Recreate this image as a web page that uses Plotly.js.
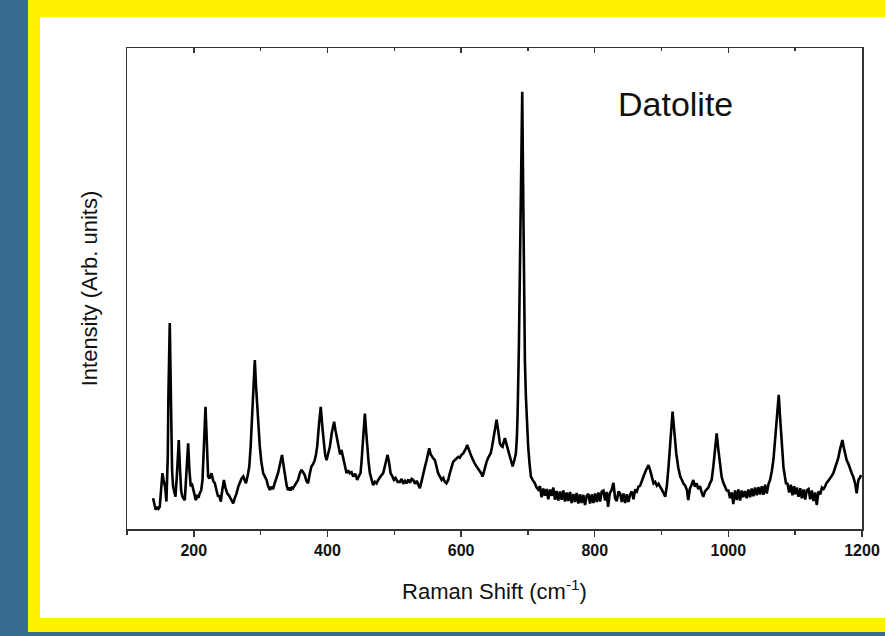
<!DOCTYPE html>
<html>
<head>
<meta charset="utf-8">
<script src="https://cdn.plot.ly/plotly-3.0.1.min.js"></script>
<style>
  html, body { margin: 0; padding: 0; }
  body { width: 885px; height: 636px; background: #386d91; position: relative; overflow: hidden; }
  #yellow { position: absolute; left: 28px; top: 0; width: 857px; height: 632px; background: #fff200; }
  #white { position: absolute; left: 40px; top: 17px; width: 845px; height: 601px; background: #ffffff; }
  #chart { position: absolute; left: 0; top: 0; width: 885px; height: 636px; }
</style>
</head>
<body>
<div id="yellow"></div>
<div id="white"></div>
<div id="chart"></div>
<script>
// Raman shift (cm^-1) and intensity (arb. units)
const shift = [
139,141,143,145,147,149,151,153,155,157,159,161,162,164,166,167.5,169,171,172.6,175,
177.5,179.5,181,183,185,186.5,189,191.5,193.5,195.5,197,199,201,203,205,207,209,211,213,215,
217.5,219.5,221.4,223.5,226.5,229,231.5,234,236.4,238,240.4,242.5,245,247.5,250,252.5,255,257,259,261.5,
264,266.5,269,271.5,274,276,278,280.5,283,285,286.4,288.5,291.3,293,294.8,297,298.8,301,303.8,306,
308.8,311,313.8,316,318.5,321,323.5,326,329,332,334.5,337,339,341,343,345,347,348.6,351,353.5,
356,358.5,361,363.5,366,368.5,371,373.5,376,378.5,381,382.8,384.6,387.5,390,392.5,394.6,396.5,398.6,401,
403.6,406.5,410,412,414.5,417.5,419,421,423,424.6,426.5,428.6,431,433.5,436,438.5,441.5,444.5,447,449.5,
451,452.5,454.5,456,457.5,459.4,461.5,463.5,466,468.4,471,473.5,476,478.5,481,483.4,486.5,490,492,494.5,
497,499.4,502,505,508.4,511,513.5,516,518.4,521,523.5,526,528.3,531,533.5,536,538.3,541,543.3,546,
548.4,550.5,552.3,554.5,556.5,558.3,560.8,563,565.7,568.3,571,573.5,575.7,578,580.7,583,585.5,588.2,590.5,593,
595.7,598,600.5,603.2,605.5,607.5,609.1,611,613.5,615.7,618,620.5,623.2,625.5,628,630,632.2,634.5,636.3,638.2,
640.5,642.5,644.2,646.2,648.1,650.5,653.1,655.5,658,660,662.1,664,665.6,668,670.5,672.5,674.5,677.1,679.5,682,
683.5,684.6,686.5,688.5,690,691.5,692.8,694,695.5,697,698.7,700.4,702.5,704.5,707,710.5,713,715.5,718,720.5,
723,725.5,728,730.5,733,735.5,738,740.5,743,745.5,748,750.5,753,755.5,758,760.5,763,765.5,768,770.5,
773,775.5,778,780.5,783,785.5,788,790.5,793,795.5,798,800.5,803,805.5,808,810.5,813,815.5,818,820,
822.5,825,828,830.5,833,835.5,838,840.5,843,845.5,848,850.5,853,855.5,858,860.5,863,865.5,868,870.5,
873,876,878.5,880.5,883,885.5,888,890.5,893,895.5,898,900.5,903,905.5,908,910.5,913,916.5,919,922,
925,928,930.5,933,935.5,938,940,942.5,945,947.5,950,952.5,955,957.5,960,962.5,965,967.5,970,972.5,
975,977.5,980,982.5,985,987.4,990,992.5,994.9,997.5,1000,1002.5,1005,1007.4,1010,1012.5,1015,1017.5,1020,1022.4,
1025,1027.5,1030,1032.5,1035,1037.4,1040,1042.5,1045,1047.5,1050,1052.4,1055,1057.5,1060,1062.4,1065,1067.5,1069.9,1072.5,
1075.4,1077.5,1079.9,1082.5,1086.2,1088.5,1091,1093.5,1096,1098.5,1100.5,1102.2,1105,1107.5,1110,1112.5,1115,1117.2,1120,1122.5,
1125,1127.5,1130,1132.2,1135,1137.5,1140,1142.5,1144.6,1147,1149.5,1152,1154.5,1157.1,1159.5,1162,1164.5,1167,1170.6,1173,
1175,1177.1,1179.5,1182,1184.6,1187,1189.5,1192.1,1194.6,1196.5,1198.6
];
const intensity = [
6.4,5.0,4.0,4.6,4.2,4.6,8.0,11.6,10.0,8.8,5.7,15,28,42.8,25,12,8.8,7.5,6.7,12,
18.5,12,8,6.7,6.2,6.0,12,17.8,12,8.8,9.5,8.1,7.0,6.0,6.8,6.5,7.5,8.0,10.2,16,
25.4,18,10.9,10.5,11.6,10.0,9.5,8.0,6.7,7.0,5.7,8,10.2,8.5,7.4,7.0,6.4,5.8,5.3,6.5,
7.4,8.8,9.8,10.5,10.9,10.0,9.5,11,13.0,17,20.6,28,35.1,30,25.4,20,17.1,14,11.6,11,
10.2,9.0,8.1,8.8,8.3,9.5,10.5,11.6,13.5,15.4,13,10.2,9.0,8.1,8.6,8.0,8.8,8.5,9.0,9.8,
10.2,11.5,12.3,11.8,11.2,10,9.5,11.5,13.0,13.5,14.3,15.5,17.1,22,25.4,21,17.1,15.5,14.3,15.5,
17.1,20,22.3,20.5,18.5,17.0,15.5,16.4,15.0,14.3,12.8,11.6,12.2,11.6,11.8,10.9,11.5,10.2,11,11.6,
14,17.1,21.5,24.0,21,17.1,14,11.6,10.2,9.1,9.8,9.5,10.2,10.8,11.2,11.6,13.5,15.4,14,11.6,
11,10.2,10.6,9.8,9.8,10.4,9.4,10.0,9.5,10.3,9.6,10.4,10.2,9.4,10.0,9.0,8.5,10,11.6,13,
14.3,16,16.8,15.5,15.2,14.7,14.3,12.8,11.6,10.9,10.2,10.6,9.8,9.5,10.2,11.5,12.8,14.0,14.3,14.6,
15.0,14.8,15.4,15.7,16.2,16.8,17.5,16.6,15.8,15.0,14.2,13.6,13.0,12.5,12.2,11.6,10.9,12.2,13.2,14.0,
14.8,15.2,15.7,17,18.5,20.8,22.7,20.5,17.8,17.3,17.1,18.2,18.9,17.6,16.4,15,14,13.0,14.2,15.7,
19,24.0,37.9,60,80,90.9,72,44.8,35,27.5,22,17.1,13.5,10.9,10.2,9.5,8.6,8.2,8.9,6.6,
8.4,6.9,8.3,6.2,8.2,6.9,8.6,6.1,7.9,5.9,7.8,6.1,8.0,5.7,7.6,5.8,7.7,5.4,7.3,5.6,
7.5,5.3,7.2,5.4,7.1,5.0,6.9,7.3,5.3,7.2,5.4,7.4,5.6,7.6,5.7,7.8,8.0,5.9,7.7,4.6,
7.4,8.0,9.6,6.4,5.8,7.8,7.4,5.6,7.4,5.4,7.2,5.6,7.2,7.8,6.2,8.2,7.8,8.8,9.0,9.8,
10.9,12.0,12.8,13.3,12.2,10.8,9.5,9.8,9.0,9.4,8.8,8.4,7.5,6.7,9.0,13.0,18.5,24.4,20.5,15.7,
12.8,10.9,10.2,9.4,9.0,8.1,6.0,8.4,9.2,10.2,8.8,9.5,8.3,8.9,7.6,6.7,7.8,8.2,8.6,9.5,
10.2,13,17,19.9,16.5,13.0,10.8,9.6,8.8,8.0,8.0,6.4,7.6,5.2,8.0,6.0,8.2,5.9,8.0,6.6,
7.9,6.4,8.2,6.6,8.4,6.8,8.6,7.0,8.7,7.2,8.9,7.1,9.2,7.4,9.3,10.2,12,14.5,18.5,23.5,
27.9,23,17.1,12.8,9.5,9.4,7.6,9.2,7.0,8.9,7.2,8.6,6.7,8.5,6.4,8.2,6.1,8.0,8.3,6.2,
8.0,5.8,7.6,5.0,7.8,7.2,8.6,8.3,8.8,9.6,10.0,10.4,11.0,11.6,12.5,13.5,14.8,16.5,18.5,16.8,
15.6,14.3,13.6,12.4,11.6,10.8,9.6,7.4,10.2,10.6,11.2
];
const majorTicks = [200, 400, 600, 800, 1000, 1200];
const minorTicks = [100, 300, 500, 700, 900, 1100];
const sampleName = 'Datolite';

const axisColor = '#333333';
const fontFamily = 'Liberation Sans, Arial, sans-serif';

const traces = [
  {
    x: shift, y: intensity, type: 'scatter', mode: 'lines',
    line: { color: '#000000', width: 2.6 },
    hoverinfo: 'x+y', showlegend: false
  },
  {
    x: [], y: [], xaxis: 'x2', yaxis: 'y', type: 'scatter', mode: 'lines',
    showlegend: false, hoverinfo: 'skip'
  }
];

const layout = {
  width: 885, height: 636,
  margin: { l: 127, r: 23, t: 48, b: 107 },
  paper_bgcolor: 'rgba(0,0,0,0)',
  plot_bgcolor: 'rgba(0,0,0,0)',
  font: { family: fontFamily, color: '#111111' },
  showlegend: false,
  xaxis: {
    range: [100, 1200], tickmode: 'array', tickvals: majorTicks,
    ticks: 'outside', ticklen: 6, tickwidth: 1.5, tickcolor: axisColor,
    minor: { tickmode: 'array', tickvals: minorTicks, ticks: 'outside', ticklen: 4, tickwidth: 1.5, tickcolor: axisColor },
    showline: true, linecolor: axisColor, linewidth: 1.5, mirror: false,
    showgrid: false, zeroline: false,
    tickfont: { family: fontFamily, size: 16, color: '#111111', weight: 'bold' },
    title: { text: 'Raman Shift (cm<sup>-1</sup>)', font: { family: fontFamily, size: 22, color: '#111111' }, standoff: 26 }
  },
  xaxis2: {
    overlaying: 'x', side: 'top', anchor: 'y', matches: 'x',
    range: [100, 1200], tickmode: 'array', tickvals: majorTicks,
    ticks: 'inside', ticklen: 5, tickwidth: 1.5, tickcolor: axisColor,
    minor: { tickmode: 'array', tickvals: minorTicks, ticks: 'inside', ticklen: 3, tickwidth: 1.5, tickcolor: axisColor },
    showticklabels: false, showline: true, linecolor: axisColor, linewidth: 1.5,
    showgrid: false, zeroline: false
  },
  yaxis: {
    range: [0, 100], showticklabels: false, ticks: '',
    showline: true, linecolor: axisColor, linewidth: 1.5, mirror: true,
    showgrid: false, zeroline: false,
    title: { text: 'Intensity (Arb. units)', font: { family: fontFamily, size: 22, color: '#111111' }, standoff: 22 }
  },
  annotations: [
    {
      text: sampleName, xref: 'x', yref: 'y', x: 921, y: 88.4,
      showarrow: false, xanchor: 'center', yanchor: 'middle',
      font: { family: fontFamily, size: 34, color: '#111111' }
    }
  ]
};

Plotly.newPlot('chart', traces, layout, { staticPlot: true, displayModeBar: false });
</script>
</body>
</html>
